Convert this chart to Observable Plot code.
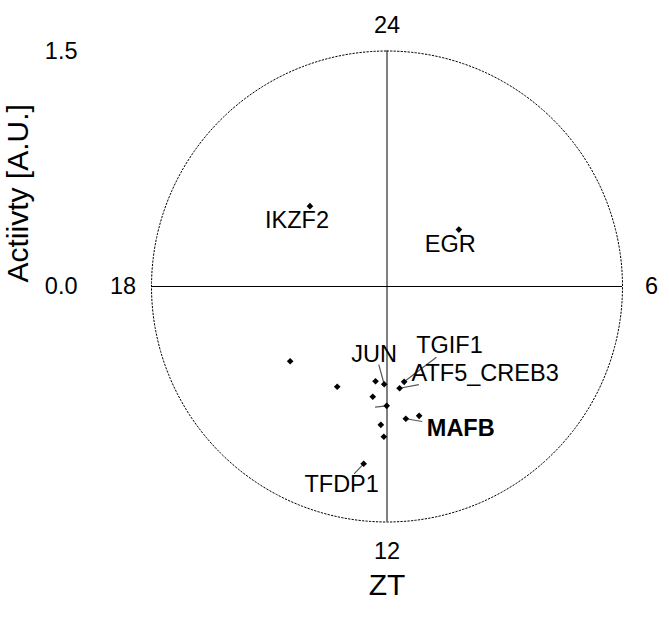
<!DOCTYPE html>
<html><head><meta charset="utf-8">
<script src="https://cdn.jsdelivr.net/npm/d3@7"></script>
<script src="https://cdn.jsdelivr.net/npm/@observablehq/plot@0.6"></script>
<style>body{margin:0;background:#fff}</style>
</head><body><div id="chart"></div>
<script>
// Data (ZT in hours, activity in A.U.)
const genes    = ["p1","p2","p3","JUN","TGIF1","ATF5_CREB3","p7","p8","p9","MAFB","p11","p12","TFDP1","IKZF2","EGR"];
const zt       = [15.49,13.76,12.46,12.11,11.32,11.53,12.49,12.01,11.07,11.46,12.17,12.08,12.50,21.08,3.44];
const activity = [0.779,0.713,0.608,0.623,0.617,0.653,0.708,0.760,0.849,0.851,0.882,0.957,1.139,0.709,0.584];
const shownLabels = ["JUN","TGIF1","ATF5_CREB3","MAFB","TFDP1","IKZF2","EGR"];
const hourTicks  = [24, 6, 12, 18];
const activityTicks = [0, 1.5];
const rMax = 1.5;

// label layout (pixel offsets from the point)
const layout = {
  JUN:        {tx:-10, ty:-30, anchor:"middle", lx:-5.4, ly:-19.7},
  TGIF1:      {tx:12,  ty:-36, anchor:"start",  lx:32.3, ly:-24.6},
  ATF5_CREB3: {tx:12,  ty:-14.5, anchor:"start",lx:19.3, ly:-3.7},
  p8:         {tx:0,   ty:0,   anchor:"start",  lx:-11.6, ly:1.4, noText:true},
  MAFB:       {tx:21,  ty:10,  anchor:"start",  lx:16.4, ly:2.7, bold:true},
  TFDP1:      {tx:-22, ty:21,  anchor:"middle", lx:-9.6, ly:10},
  IKZF2:      {tx:-13, ty:14.5,anchor:"middle"},
  EGR:        {tx:-8.6,ty:15,  anchor:"middle"}
};

const pts = genes.map((g,i) => {
  const a = zt[i] / 24 * 2 * Math.PI;
  return {gene:g, zt:zt[i], act:activity[i], x: activity[i]*Math.sin(a), y: activity[i]*Math.cos(a)};
});

const W = 669, H = 619;
const mL = 151, mR = 47, mT = 50.5, mB = 97.5;
const k = (2*rMax) / (W - mL - mR); // data units per pixel
const FS = 23.5, TFS = 30;

const circle = d3.range(0, 361, 1).map(d => ({x: rMax*Math.sin(d*Math.PI/180), y: rMax*Math.cos(d*Math.PI/180)}));

const hourPos = hourTicks.map(h => {
  const a = (h % 24) / 24 * 2 * Math.PI;
  return {h, label: String(h), x: rMax*Math.sin(a), y: rMax*Math.cos(a)};
});

const marks = [
  Plot.line(circle, {x:"x", y:"y", stroke:"black", strokeWidth:1, strokeDasharray:"1.5,2"}),
  Plot.ruleX([0], {y1:-rMax, y2:rMax, stroke:"black", strokeWidth:1}),
  Plot.ruleY([0], {x1:-rMax, x2:rMax, stroke:"black", strokeWidth:1}),
  Plot.text(hourPos.filter(d=>d.h===24), {x:"x", y:"y", text:"label", dy:-25.5, fontSize:FS}),
  Plot.text(hourPos.filter(d=>d.h===12), {x:"x", y:"y", text:"label", dy:29, fontSize:FS}),
  Plot.text(hourPos.filter(d=>d.h===6),  {x:"x", y:"y", text:"label", dx:29, fontSize:FS}),
  Plot.text(hourPos.filter(d=>d.h===18), {x:"x", y:"y", text:"label", dx:-28.5, fontSize:FS}),
  Plot.axisY(activityTicks, {anchor:"left", tickSize:0, tickPadding:74, tickFormat:d3.format(".1f"), fontSize:FS, label:null}),
  Plot.text(["Actiivty [A.U.]"], {frameAnchor:"left", dx:-133, dy:-4, rotate:-90, fontSize:TFS}),
  Plot.text(["ZT"], {frameAnchor:"bottom", dy:73, fontSize:TFS})
];

// leader lines
const leaders = pts.filter(p => layout[p.gene] && layout[p.gene].lx !== undefined).map(p => {
  const L = layout[p.gene];
  return {x1:p.x, y1:p.y, x2:p.x + L.lx*k, y2:p.y - L.ly*k};
});
marks.push(Plot.link(leaders, {x1:"x1", y1:"y1", x2:"x2", y2:"y2", stroke:"#555", strokeWidth:1.2}));

marks.push(Plot.dot(pts, {x:"x", y:"y", symbol:"diamond2", r:3, fill:"black", stroke:"none"}));

for (const g of shownLabels) {
  const p = pts.find(d => d.gene === g);
  const L = layout[g];
  marks.push(Plot.text([p], {x:"x", y:"y", text:"gene", dx:L.tx, dy:L.ty, textAnchor:L.anchor,
    fontSize:FS, fontWeight: L.bold ? "bold" : "normal", fill:"black"}));
}

const chart = Plot.plot({
  width: W, height: H,
  marginLeft: mL, marginRight: mR, marginTop: mT, marginBottom: mB,
  x: {domain:[-rMax, rMax], axis:null},
  y: {domain:[-rMax, rMax]},
  style: {fontFamily:"'Liberation Sans', Arial, Helvetica, sans-serif", background:"white", color:"black"},
  marks
});
document.getElementById("chart").appendChild(chart);
</script>
</body></html>
